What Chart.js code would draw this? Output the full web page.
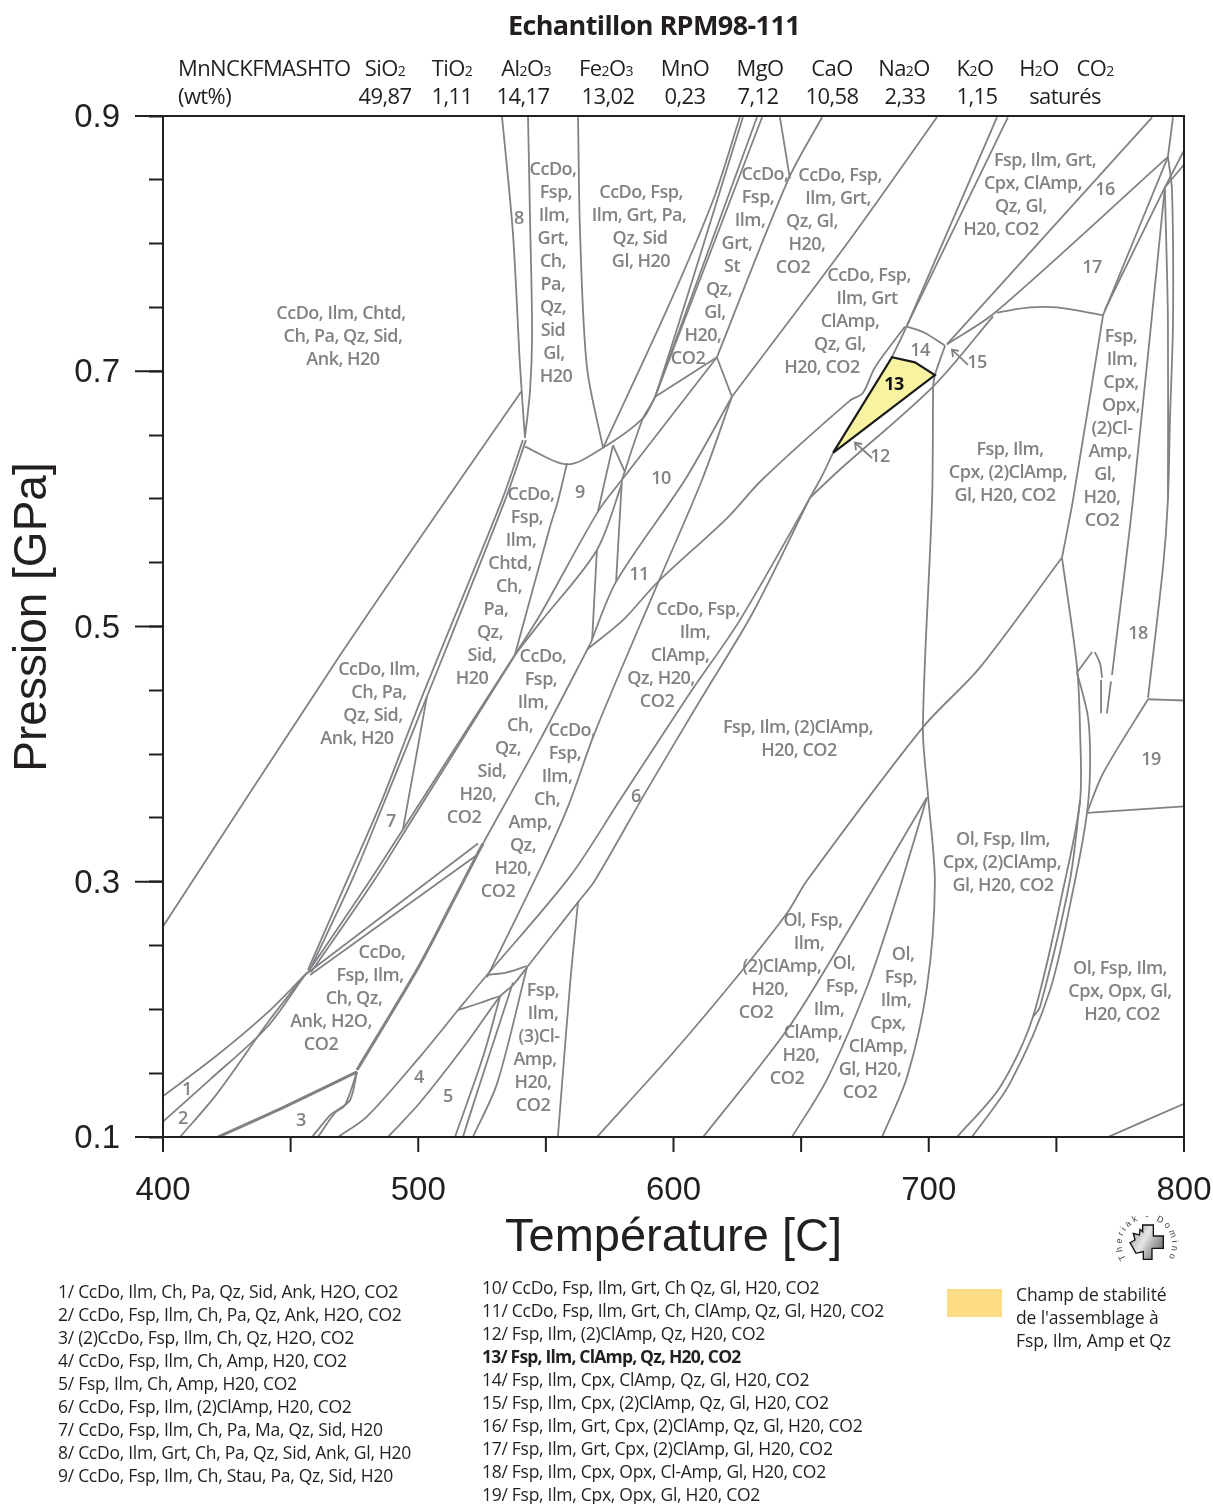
<!DOCTYPE html>
<html lang="fr">
<head>
<meta charset="utf-8">
<title>Echantillon RPM98-111</title>
<script src="https://cdn.jsdelivr.net/npm/chart.js@4"></script>
<style>
  body { margin: 0; background: #fff; }
  #page { position: relative; width: 1213px; height: 1504px; overflow: hidden; color: #231F20;
          font-family: "Open Sans", sans-serif; }
  #page canvas { position: absolute; left: 0; top: 0; }
  .t { position: absolute; white-space: nowrap; line-height: 1; transform: translateY(-50%); }
  .c { transform: translate(-50%, -50%); }
  .head { font-size: 22px; letter-spacing: -0.6px; }
  .head small { font-size: 14px; }
  .leg { font-size: 17.5px; letter-spacing: -0.28px; }
  #logo { position: absolute; left: 1090px; top: 1200px; }
</style>
</head>
<body>
<div id="page"><canvas id="chart" width="1213" height="1504"></canvas></div>
<script>
/* Phase boundaries as [temperature C, pressure GPa] polylines. */
const leftBoundaries = [
    [[400, .265], [468.2, .474], [516.4, .615], [540.3, .684]],
    [[532.8, .9], [537.1, .808], [539.9, .703], [541.8, .648]],
    [[543, .9], [543.8, .819], [544.6, .73], [543.8, .685], [541.8, .648]],
    [[562.6, .899], [563.4, .808], [566.1, .703], [572.4, .64]],
    [[541, .646], [532.8, .599], [501.5, .445], [485.8, .364], [472.1, .301], [456.8, .231]],
    [[542.2, .646], [534, .599], [503.4, .445], [487, .364], [474, .301], [458, .233]],
    [[456.8, .229], [481.1, .301], [494, .341], [537.9, .478]],
    [[458, .229], [482.7, .301], [495.2, .341], [538.7, .48]],
    [[503.4, .445], [494, .341]],
    [[537.9, .478], [551.6, .578], [554.8, .599], [558.3, .628]],
];

const centreBoundaries = [
    [[537.9, .478], [547.7, .509], [570.4, .59], [579.8, .615], [617, .711]],
    [[537.9, .478], [547.7, .503], [570, .56], [579.8, .612]],
    [[570.4, .59], [573.2, .615], [576.3, .642]],
    [[576.3, .642], [581, .621]],
    [[579.8, .615], [577.5, .535]],
    [[570, .56], [568.1, .489]],
    [[567.3, .486], [577.5, .535], [604.5, .615], [622.9, .68]],
    [[622.9, .68], [611.2, .615], [593.9, .534], [569.2, .417], [558.7, .359], [548.9, .315], [526.9, .225]],
    [[525.4, .33], [547.7, .411], [567.3, .486]],
    [[566.1, .482], [580.2, .505], [593.9, .535], [621, .585], [634.7, .615], [669.1, .677], [674.2, .683], [678.9, .703], [690.7, .735]],
    [[626, .899], [615.5, .834], [597.8, .75], [572.4, .64]],
    [[627.2, .899], [592.8, .68], [588, .663], [579.8, .615]],
    [[632.7, .899], [592.8, .68]],
    [[634.7, .899], [592.8, .68]],
    [[541.8, .641], [558.3, .627], [572.4, .64], [588, .663], [592.8, .68]],
    [[592.8, .68], [617, .711]],
    [[617, .711], [644.9, .85], [658.2, .899]],
    [[641.7, .899], [645.6, .851]],
    [[617, .711], [622.9, .68]],
    [[622.9, .68], [669.1, .803], [703.2, .899]],
];

const lowerBoundaries = [
    [[662.5, .636], [657.4, .615], [626, .505], [606.5, .448], [579, .364], [559.4, .304], [526.1, .225], [515.6, .1995], [500.7, .163], [479.9, .116], [468.6, .1]],
    [[653.5, .601], [631.1, .511], [610.4, .442], [589.6, .372], [569.2, .301], [562.6, .284], [542.6, .233], [537.1, .219], [532, .21], [519.1, .174], [500.7, .127], [488.1, .1]],
    [[653.5, .601], [665.2, .623], [701.7, .688], [725.2, .743]],
    [[527.3, .227], [534.8, .229], [542.6, .234]],
    [[515.6, .1995], [524.2, .205], [532, .2105]],
    [[514.4, .1], [525.4, .163], [532, .2097]],
    [[517.5, .1], [523.4, .137], [537.1, .221]],
    [[521.4, .1], [530.9, .142], [542.6, .233]],
    [[554.7, .1], [559.4, .218], [562.6, .284]],
    [[400, .132], [421.2, .164], [440.7, .197], [455.6, .227]],
    [[400, .112], [418.4, .145], [440.7, .186], [455.6, .227]],
    [[406.7, .1], [421.2, .134], [441.9, .192], [456.4, .229]],
    [[455.6, .227], [523.4, .33]],
    [[457.6, .227], [523, .321]],
    [[476, .151], [473.3, .129], [468.2, .121], [465.4, .117], [458.4, .1]],
    [[476, .151], [471.3, .125], [467.4, .119], [460.7, .1]],
];

const heavyBoundaries = [
    [[421.5, .1], [447, .123], [476, .151]],
    [[525.4, .33], [523, .321], [512.4, .28], [499.5, .231], [476, .1525]],
];

const rightBoundaries = [
    [[726.7, .899], [691.5, .736], [685.6, .711]],
    [[731, .899], [691.5, .736]],
    [[691.5, .735], [698.5, .73], [706.4, .72]],
    [[706.4, .72], [702.4, .697], [701.7, .688]],
    [[787.5, .899], [707.1, .721]],
    [[793.7, .868], [726, .746], [707.1, .721]],
    [[726.7, .746], [739.7, .75], [750.2, .75], [768.3, .744]],
    [[768.3, .744], [793.7, .868]],
    [[769, .748], [792.5, .844], [800, .873]],
    [[792.5, .844], [800, .862]],
    [[795.7, .899], [793.7, .868]],
    [[793.7, .868], [795.3, .842], [795.7, .74], [794.5, .662], [793.7, .599], [791.8, .547], [785.9, .444]],
    [[792.5, .843], [793.7, .74], [793.7, .599]],
    [[792.5, .844], [780, .599], [771.8, .462]],
    [[771.4, .457], [769.8, .432]],
    [[768.3, .744], [756.5, .599], [752.2, .554]],
    [[752.2, .554], [758.1, .468], [759.3, .417], [759.3, .364], [753.4, .301], [740.8, .194], [727.9, .139], [711.1, .1]],
    [[758.1, .464], [762.4, .429], [763.2, .39], [762, .354], [757.3, .301], [747.5, .215], [731.8, .142], [716.9, .1]],
    [[759.3, .364], [755.3, .301], [743.6, .202], [740.8, .194]],
    [[785.9, .443], [800, .442]],
    [[762, .354], [800, .359]],
    [[762, .354], [768.3, .385], [785.9, .443]],
    [[758.1, .464], [764, .48]],
    [[765.1, .48], [767.1, .471], [767.9, .46]],
    [[767.5, .458], [767.5, .432]],
    [[770.2, .1], [800, .126]],
    [[701.7, .688], [701.3, .599], [697.7, .421], [699.7, .368], [702.4, .299], [699.3, .2175], [691.5, .147], [681.7, .1]],
    [[752.2, .554], [720.1, .468], [697.7, .421], [652.3, .301], [644.5, .2755], [626.1, .2285], [599.8, .166], [570, .1]],
    [[699.3, .366], [668, .26], [644.5, .184], [611.6, .1]],
    [[699.3, .366], [686, .278], [675.8, .2175], [660.1, .145], [646.4, .1]],
];

const arrowMarks = [
    [[677.8, .632], [671.1, .644]],
    [[673.9, .643], [671.1, .644], [671.5, .638]],
    [[715.4, .705], [709.1, .717]],
    [[711.8, .716], [709.1, .717], [709.5, .711]],
];

// highlighted stability field 13
const field13 = [[662.5, .636], [685.6, .711], [694.6, .707], [702.4, .697], [662.5, .636]];

const xLabelStep = 100;
const yLabelValues = [0.1, 0.3, 0.5, 0.7, 0.9];

const oxides = ['SiO2', 'TiO2', 'Al2O3', 'Fe2O3', 'MnO', 'MgO', 'CaO', 'Na2O', 'K2O', 'H2O', 'CO2'];
const wtPercent = ['49,87', '1,11', '14,17', '13,02', '0,23', '7,12', '10,58', '2,33', '1,15', 'saturés'];
const oxideCentres = [385, 452, 526, 606, 685, 760, 832, 904, 975, 1039, 1095];
const wtCentres = [385, 452, 523, 608, 685, 758, 832, 905, 977, 1065];

const legendLeft = [
    '1/ CcDo, Ilm, Ch, Pa, Qz, Sid, Ank, H2O, CO2',
    '2/ CcDo, Fsp, Ilm, Ch, Pa, Qz, Ank, H2O, CO2',
    '3/ (2)CcDo, Fsp, Ilm, Ch, Qz, H2O, CO2',
    '4/ CcDo, Fsp, Ilm, Ch, Amp, H20, CO2',
    '5/ Fsp, Ilm, Ch, Amp, H20, CO2',
    '6/ CcDo, Fsp, Ilm, (2)ClAmp, H20, CO2',
    '7/ CcDo, Fsp, Ilm, Ch, Pa, Ma, Qz, Sid, H20',
    '8/ CcDo, Ilm, Grt, Ch, Pa, Qz, Sid, Ank, Gl, H20',
    '9/ CcDo, Fsp, Ilm, Ch, Stau, Pa, Qz, Sid, H20',
];
const legendRight = [
    '10/ CcDo, Fsp, Ilm, Grt, Ch Qz, Gl, H20, CO2',
    '11/ CcDo, Fsp, Ilm, Grt, Ch, ClAmp, Qz, Gl, H20, CO2',
    '12/ Fsp, Ilm, (2)ClAmp, Qz, H20, CO2',
    '13/ Fsp, Ilm, ClAmp, Qz, H20, CO2',
    '14/ Fsp, Ilm, Cpx, ClAmp, Qz, Gl, H20, CO2',
    '15/ Fsp, Ilm, Cpx, (2)ClAmp, Qz, Gl, H20, CO2',
    '16/ Fsp, Ilm, Grt, Cpx, (2)ClAmp, Qz, Gl, H20, CO2',
    '17/ Fsp, Ilm, Grt, Cpx, (2)ClAmp, Gl, H20, CO2',
    '18/ Fsp, Ilm, Cpx, Opx, Cl-Amp, Gl, H20, CO2',
    '19/ Fsp, Ilm, Cpx, Opx, Gl, H20, CO2',
];
const keyLines = ['Champ de stabilité', "de l'assemblage à", 'Fsp, Ilm, Amp et Qz'];

// field labels: page position of each text line (x centres, first line y)
const fieldLabels = [
    { y: 314, x: [341, 343, 343], lines: ['CcDo, Ilm, Chtd,', 'Ch, Pa, Qz, Sid,', 'Ank, H20'] },
    { y: 170, x: [553, 556, 554, 553, 553, 553, 553, 553, 554, 556], lines: ['CcDo,', 'Fsp,', 'Ilm,', 'Grt,', 'Ch,', 'Pa,', 'Qz,', 'Sid', 'Gl,', 'H20'] },
    { y: 193, x: [641, 639, 640, 641], lines: ['CcDo, Fsp,', 'Ilm, Grt, Pa,', 'Qz, Sid', 'Gl, H20'] },
    { y: 175, x: [765, 758, 750, 737, 732, 719, 715, 703, 688], lines: ['CcDo,', 'Fsp,', 'Ilm,', 'Grt,', 'St', 'Qz,', 'Gl,', 'H20,', 'CO2'] },
    { y: 176, x: [840, 838, 812, 807, 793], lines: ['CcDo, Fsp,', 'Ilm, Grt,', 'Qz, Gl,', 'H20,', 'CO2'] },
    { y: 276, x: [869, 867, 850, 840, 822], lines: ['CcDo, Fsp,', 'Ilm, Grt', 'ClAmp,', 'Qz, Gl,', 'H20, CO2'] },
    { y: 161, x: [1045, 1033, 1021, 1001], lines: ['Fsp, Ilm, Grt,', 'Cpx, ClAmp,', 'Qz, Gl,', 'H20, CO2'] },
    { y: 337, x: [1121, 1122, 1121, 1121, 1112, 1110, 1105, 1102, 1102], lines: ['Fsp,', 'Ilm,', 'Cpx,', 'Opx,', '(2)Cl-', 'Amp,', 'Gl,', 'H20,', 'CO2'] },
    { y: 450, x: [1010, 1008, 1005], lines: ['Fsp, Ilm,', 'Cpx, (2)ClAmp,', 'Gl, H20, CO2'] },
    { y: 495, x: [531, 527, 521, 510, 509, 496, 490, 482, 472], lines: ['CcDo,', 'Fsp,', 'Ilm,', 'Chtd,', 'Ch,', 'Pa,', 'Qz,', 'Sid,', 'H20'] },
    { y: 670, x: [379, 379, 373, 357], lines: ['CcDo, Ilm,', 'Ch, Pa,', 'Qz, Sid,', 'Ank, H20'] },
    { y: 657, x: [543, 541, 533, 520, 508, 492, 478, 464], lines: ['CcDo,', 'Fsp,', 'Ilm,', 'Ch,', 'Qz,', 'Sid,', 'H20,', 'CO2'] },
    { y: 731, x: [572, 565, 557, 547, 530, 523, 513, 498], lines: ['CcDo,', 'Fsp,', 'Ilm,', 'Ch,', 'Amp,', 'Qz,', 'H20,', 'CO2'] },
    { y: 610, x: [698, 695, 680, 661, 657], lines: ['CcDo, Fsp,', 'Ilm,', 'ClAmp,', 'Qz, H20,', 'CO2'] },
    { y: 728, x: [798, 799], lines: ['Fsp, Ilm, (2)ClAmp,', 'H20, CO2'] },
    { y: 840, x: [1003, 1002, 1003], lines: ['Ol, Fsp, Ilm,', 'Cpx, (2)ClAmp,', 'Gl, H20, CO2'] },
    { y: 969, x: [1120, 1120, 1122], lines: ['Ol, Fsp, Ilm,', 'Cpx, Opx, Gl,', 'H20, CO2'] },
    { y: 921, x: [813, 809, 782, 770, 756], lines: ['Ol, Fsp,', 'Ilm,', '(2)ClAmp,', 'H20,', 'CO2'] },
    { y: 964, x: [844, 842, 829, 813, 801, 787], lines: ['Ol,', 'Fsp,', 'Ilm,', 'ClAmp,', 'H20,', 'CO2'] },
    { y: 955, x: [903, 901, 896, 888, 878, 870, 860], lines: ['Ol,', 'Fsp,', 'Ilm,', 'Cpx,', 'ClAmp,', 'Gl, H20,', 'CO2'] },
    { y: 953, x: [382, 370, 354, 331, 321], lines: ['CcDo,', 'Fsp, Ilm,', 'Ch, Qz,', 'Ank, H2O,', 'CO2'] },
    { y: 991, x: [543, 543, 539, 535, 533, 533], lines: ['Fsp,', 'Ilm,', '(3)Cl-', 'Amp,', 'H20,', 'CO2'] },
];
const fieldNumbers = [
    ['1', 187, 1090], ['2', 183, 1119], ['3', 301, 1121], ['4', 419, 1078], ['5', 448, 1097],
    ['6', 636, 797], ['7', 391, 822], ['8', 519, 219], ['9', 580, 493], ['10', 661, 479],
    ['11', 639, 575], ['12', 880, 457], ['14', 920, 351], ['15', 977, 363], ['16', 1105, 190],
    ['17', 1092, 268], ['18', 1138, 634], ['19', 1151, 760],
];

const INK = '#231F20';
const GREY = '#808285';

function lineSet(points, width) {
    return {
        data: points.map(p => ({ x: p[0], y: p[1] })),
        showLine: true,
        borderColor: GREY,
        borderWidth: width,
        pointRadius: 0,
        tension: 0.3,
        fill: false,
        order: 2,
    };
}

const pageText = {
    id: 'pageText',
    afterDraw(chart) {
        const { ctx, chartArea: a, scales } = chart;
        ctx.save();
        // frame, short temperature ticks, longer ticks of the labelled pressures
        ctx.strokeStyle = INK;
        ctx.lineWidth = 2;
        ctx.strokeRect(a.left, a.top, a.right - a.left, a.bottom - a.top);
        scales.x.ticks.forEach(t => {
            const x = scales.x.getPixelForValue(t.value);
            ctx.beginPath();
            ctx.moveTo(x, a.bottom);
            ctx.lineTo(x, a.bottom + 15);
            ctx.stroke();
        });
        yLabelValues.forEach(v => {
            const y = scales.y.getPixelForValue(v);
            ctx.beginPath();
            ctx.moveTo(a.left - 28, y);
            ctx.lineTo(a.left, y);
            ctx.stroke();
        });

        ctx.textAlign = 'center';
        ctx.textBaseline = 'middle';
        ctx.fillStyle = GREY;
        ctx.letterSpacing = '-0.5px';
        ctx.font = '600 18px "Open Sans"';
        fieldLabels.forEach(f => {
            f.lines.forEach((line, i) => ctx.fillText(line, f.x[i], f.y + i * 23));
        });
        fieldNumbers.forEach(n => ctx.fillText(n[0], n[1], n[2]));
        ctx.fillStyle = '#111';
        ctx.font = '700 18px "Open Sans"';
        ctx.fillText('13', 894, 385);

        // pressure axis title sits a little above the axis centre
        ctx.letterSpacing = '0px';
        ctx.fillStyle = INK;
        ctx.font = '46px "Liberation Sans"';
        ctx.translate(33, 617);
        ctx.rotate(-Math.PI / 2);
        ctx.fillText('Pression [GPa]', 0, 0);
        ctx.restore();
    },
};

new Chart(document.getElementById('chart'), {
    type: 'scatter',
    data: {
        datasets: [
            ...leftBoundaries.map(l => lineSet(l, 1.8)),
            ...centreBoundaries.map(l => lineSet(l, 1.8)),
            ...lowerBoundaries.map(l => lineSet(l, 1.8)),
            ...rightBoundaries.map(l => lineSet(l, 1.8)),
            ...heavyBoundaries.map(l => lineSet(l, 3)),
            ...arrowMarks.map(l => ({ ...lineSet(l, 1.8), tension: 0 })),
            {
                data: field13.map(p => ({ x: p[0], y: p[1] })),
                showLine: true,
                borderColor: '#1a1a1a',
                borderWidth: 2.2,
                backgroundColor: '#F8F3A0',
                fill: 'shape',
                pointRadius: 0,
                order: 1,
            },
        ],
    },
    options: {
        responsive: false,
        animation: false,
        layout: { autoPadding: false, padding: { top: 116, right: 29 } },
        plugins: { legend: { display: false }, tooltip: { enabled: false } },
        scales: {
            x: {
                type: 'linear',
                min: 400,
                max: 800,
                afterFit(scale) { scale.height = 367; },
                // tick padding would eat into the right margin, so the gap comes from a hidden tick length
                grid: { drawOnChartArea: false, tickLength: 34, tickColor: 'rgba(0,0,0,0)' },
                border: { color: INK, width: 2 },
                ticks: {
                    stepSize: 50,
                    maxRotation: 0,
                    autoSkip: false,
                    padding: 0,
                    color: INK,
                    font: { family: '"Liberation Sans"', size: 33 },
                    callback: v => (v % xLabelStep === 0 ? String(v) : ''),
                },
                title: {
                    display: true,
                    text: 'Température [C]',
                    color: INK,
                    font: { family: '"Liberation Sans"', size: 47 },
                    padding: { top: 0, bottom: 238 },
                },
            },
            y: {
                type: 'linear',
                min: 0.1,
                max: 0.9,
                afterFit(scale) { scale.width = 163; },
                grid: { drawOnChartArea: false, tickLength: 14, tickColor: INK, tickWidth: 2 },
                border: { color: INK, width: 2 },
                ticks: {
                    stepSize: 0.05,
                    autoSkip: false,
                    padding: 29,
                    labelOffset: 2,
                    color: INK,
                    font: { family: '"Liberation Sans"', size: 33 },
                    callback: v => (yLabelValues.some(l => Math.abs(l - v) < 1e-6) ? v.toFixed(1) : ''),
                },
            },
        },
    },
    plugins: [pageText],
});

/* texts around the chart */
const page = document.getElementById('page');
function addText(text, left, top, cls, extra) {
    const el = document.createElement('div');
    el.className = 't ' + (cls || '');
    el.style.left = left + 'px';
    el.style.top = top + 'px';
    el.innerHTML = text;
    if (extra) Object.assign(el.style, extra);
    page.appendChild(el);
}
const withSub = s => s.replace(/(\d)/g, '<small>$1</small>');

addText('Echantillon RPM98-111', 654, 24, 'c', { fontSize: '27px', fontWeight: 700, letterSpacing: '-0.6px' });
addText('MnNCKFMASHTO', 178, 67, 'head');
addText('(wt%)', 178, 95, 'head');
oxides.forEach((o, i) => addText(withSub(o), oxideCentres[i], 67, 'c head'));
wtPercent.forEach((w, i) => addText(w, wtCentres[i], 95, 'c head'));

legendLeft.forEach((s, i) => addText(s, 58, 1292 + i * 23, 'leg'));
legendRight.forEach((s, i) => addText(s, 482, 1288 + i * 23, 'leg', s.startsWith('13/') ? { fontWeight: 700, letterSpacing: '-0.8px' } : null));
keyLines.forEach((s, i) => addText(s, 1016, 1295 + i * 23, 'leg', { letterSpacing: '-0.1px' }));

const swatch = document.createElement('div');
swatch.style.cssText = 'position:absolute;left:947px;top:1289px;width:55px;height:28px;background:#FDDC86';
page.appendChild(swatch);

// Theriak-Domino mark
page.insertAdjacentHTML('beforeend', `
<svg id="logo" width="110" height="80" viewBox="0 0 330 240">
  <defs>
    <linearGradient id="steel" x1="0" y1="0" x2="1" y2="0.6">
      <stop offset="0" stop-color="#8a8a8a"/><stop offset="0.5" stop-color="#e6e6e6"/><stop offset="1" stop-color="#777"/>
    </linearGradient>
    <path id="arc" d="M 108 176 A 76 76 0 1 1 236 172"/>
  </defs>
  <polygon points="158,75 190,75 190,108 220,108 220,145 186,145 186,178 160,178 160,155 138,160 120,128 135,120 130,100 148,105 150,88 158,95"
           fill="url(#steel)" stroke="#111" stroke-width="4"/>
  <text font-family="Liberation Sans" font-size="27" fill="#444">
    <textPath href="#arc" textLength="325" startOffset="0">Theriak - Domino</textPath>
  </text>
</svg>`);
</script>
</body>
</html>
